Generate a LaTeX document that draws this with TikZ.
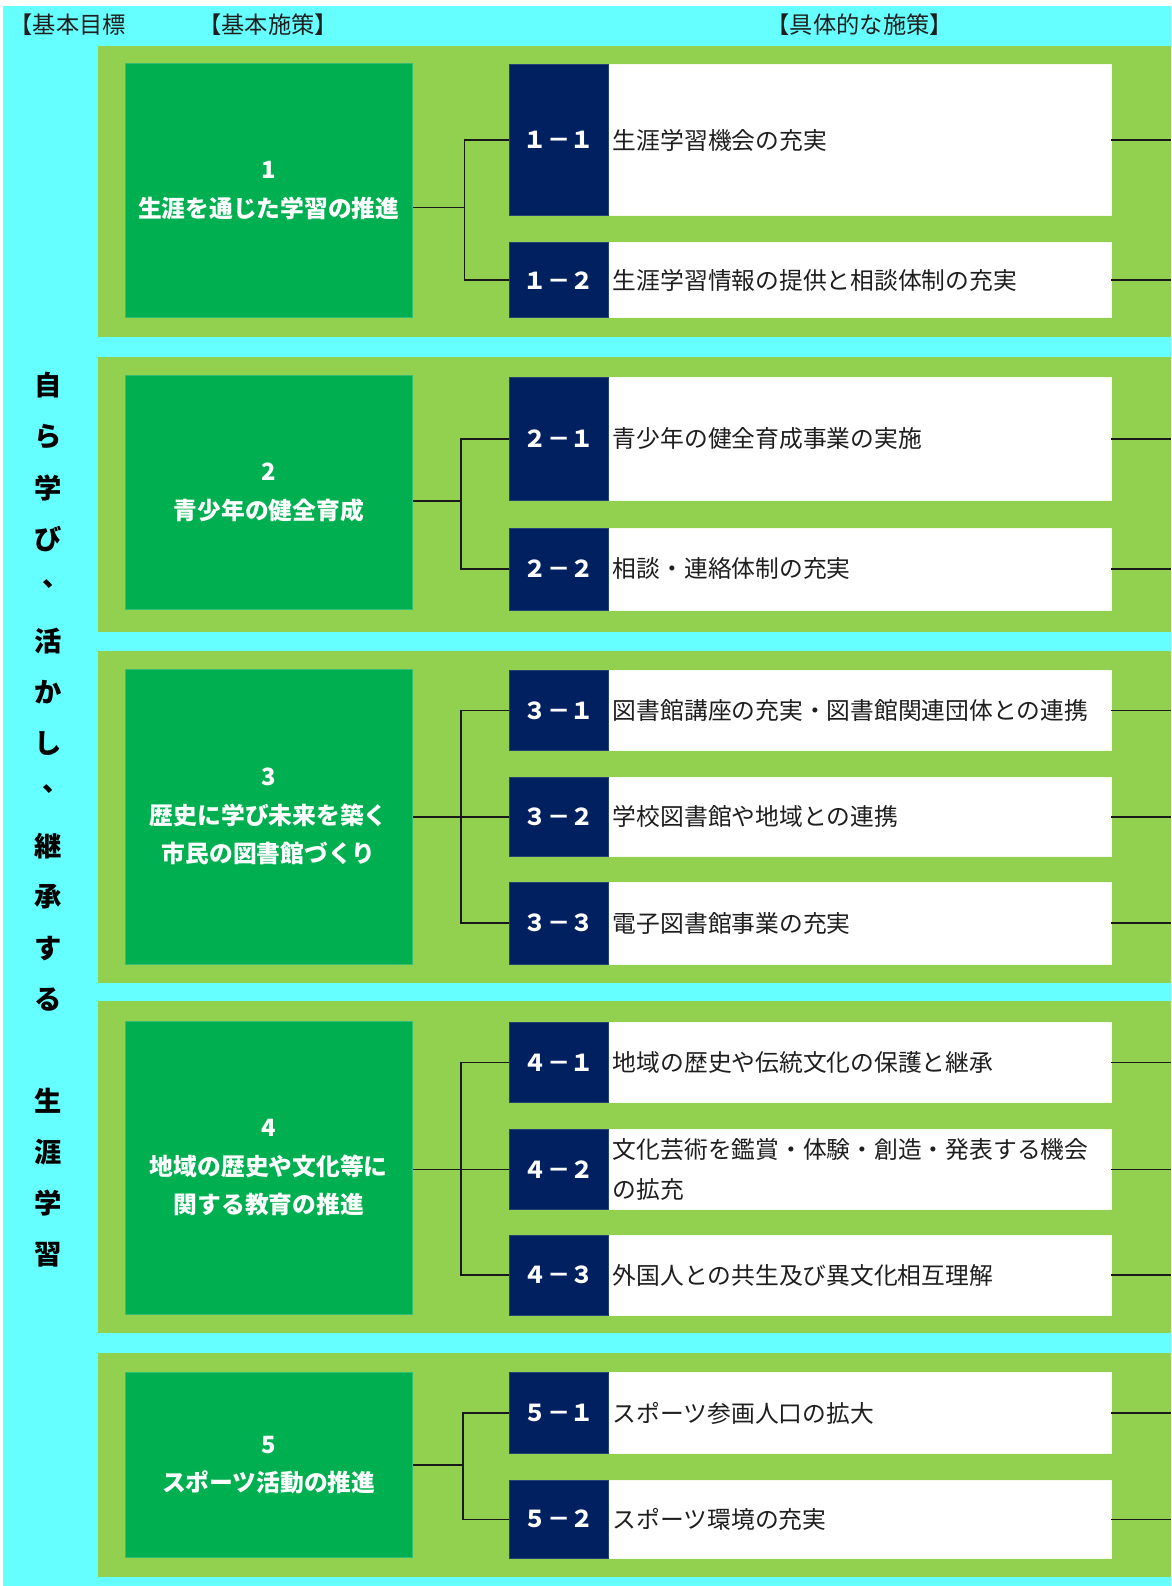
\documentclass[tikz,border=0pt]{standalone}
\usepackage{fontspec}
\newfontfamily\jp{Noto Sans CJK JP}
\definecolor{cy}{HTML}{66FFFF}
\definecolor{lg}{HTML}{92D050}
\definecolor{dg}{HTML}{00B050}
\definecolor{nv}{HTML}{002060}
\definecolor{tx}{HTML}{1E1E1E}
\tikzset{
  hdr/.style={inner sep=0pt, text=tx, font=\jp\fontsize{23}{26}\selectfont},
  vch/.style={inner sep=0pt, text=black, font=\jp\bfseries\fontsize{27}{30}\selectfont},
  gbox/.style={fill=dg, draw=dg!80!white, line width=0.8pt, text=white, align=center, inner sep=0pt,
    minimum width=284.5pt, font=\jp\bfseries\fontsize{23.5}{38}\selectfont},
  nbox/.style={fill=nv, draw=nv!85!white, line width=0.6pt, text=white, inner sep=0pt,
    minimum width=97pt, font=\jp\bfseries\fontsize{23}{26}\selectfont},
  wbox/.style={fill=white, draw=white!90!lg, line width=0.6pt, text=tx, inner xsep=5pt, inner ysep=0pt,
    text width=487.5pt, align=left, font=\jp\fontsize{23.5}{39}\selectfont},
  conn/.style={draw=black!90, line width=1.5pt}
}
\begin{document}
\begin{tikzpicture}[x=1pt,y=-1pt]
\useasboundingbox (0,0) rectangle (1158,1568);
\fill[white] (0,0) rectangle (1158,1568);
\fill[cy] (3,6) rectangle (1158,1568);
% panels
\fill[lg] (97,45) rectangle (1158,333.5);
\fill[lg] (97,352.5) rectangle (1158,625);
\fill[lg] (97,644) rectangle (1158,972);
\fill[lg] (97,990) rectangle (1158,1318);
\fill[lg] (97,1338) rectangle (1158,1559);
% headers
\node[hdr] (h1) at (67,24) {【基本目標};
\node[hdr] (h2) at (265,24) {【基本施策】};
\node[hdr] (h3) at (850,24) {【具体的な施策】};
% vertical goal text
\foreach \c [count=\i] in {自,ら,学,び,{},活,か,し,{},継,承,す,る} {
  \node[vch] (va\i) at (48,{381+(\i-1)*50.6}) {\c};
}
\node[vch] (vc1) at (56,{381+4*50.6-6}) {、};
\node[vch] (vc2) at (56,{381+8*50.6-6}) {、};
\foreach \c [count=\i] in {生,涯,学,習} {
  \node[vch] (vb\i) at (48,{1088.5+(\i-1)*50.6}) {\c};
}
% basic policies
\node[gbox, minimum height=251pt] (g1) at (265.75,188.5) {1\\生涯を通じた学習の推進};
\node[gbox, minimum height=231.5pt] (g2) at (265.75,486.75) {2\\青少年の健全育成};
\node[gbox, minimum height=291pt] (g3) at (265.75,807.5) {3\\歴史に学び未来を築く\\市民の図書館づくり};
\node[gbox, minimum height=289pt] (g4) at (265.75,1154.5) {4\\地域の歴史や文化等に\\関する教育の推進};
\node[gbox, minimum height=183pt] (g5) at (265.75,1448.5) {5\\スポーツ活動の推進};
% specific policies
\foreach \id/\lab/\yc/\h/\txt in {
  11/１－１/138.5/149/生涯学習機会の充実,
  12/１－２/277/74/生涯学習情報の提供と相談体制の充実,
  21/２－１/434/122/青少年の健全育成事業の実施,
  22/２－２/562.5/81/相談・連絡体制の充実,
  31/３－１/702.5/79/図書館講座の充実・図書館関連団体との連携,
  32/３－２/807.5/79/学校図書館や地域との連携,
  33/３－３/912.5/81/電子図書館事業の充実,
  41/４－１/1050.5/79/地域の歴史や伝統文化の保護と継承,
  42/４－２/1156/80/{文化芸術を鑑賞・体験・創造・発表する機会\\の拡充},
  43/４－３/1260.5/79/外国人との共生及び異文化相互理解,
  51/５－１/1397/80/スポーツ参画人口の拡大,
  52/５－２/1502/78/スポーツ環境の充実}
{
  \node[wbox, minimum height=\h pt] (w\id) at (849.75,\yc) {\txt};
  \node[nbox, minimum height=\h pt] (n\id) at (552.5,\yc) {\lab};
}
% junction coordinates
\coordinate (j1) at (459,205);
\coordinate (j2) at (456,495.5);
\coordinate (j3) at (456,807.5);
\coordinate (j4) at (456,1156);
\coordinate (j5) at (457.5,1448.5);
\coordinate (edge) at (1158,0);
% connectors
\draw[conn] (g1.east |- j1) -- (j1);
\draw[conn] (n11.west) -- (n11.west -| j1) -- (n12.west -| j1) -- (n12.west);
\draw[conn] (g2.east |- j2) -- (j2);
\draw[conn] (n21.west) -- (n21.west -| j2) -- (n22.west -| j2) -- (n22.west);
\draw[conn] (g3.east |- n32.west) -- (n32.west);
\draw[conn] (n31.west) -- (n31.west -| j3) -- (n33.west -| j3) -- (n33.west);
\draw[conn] (g4.east |- n42.west) -- (n42.west);
\draw[conn] (n41.west) -- (n41.west -| j4) -- (n43.west -| j4) -- (n43.west);
\draw[conn] (g5.east |- j5) -- (j5);
\draw[conn] (n51.west) -- (n51.west -| j5) -- (n52.west -| j5) -- (n52.west);
\foreach \id in {11,12,21,22,31,32,33,41,42,43,51,52} {
  \draw[conn] (w\id.east) -- (w\id.east -| edge);
}
\end{tikzpicture}
\end{document}
